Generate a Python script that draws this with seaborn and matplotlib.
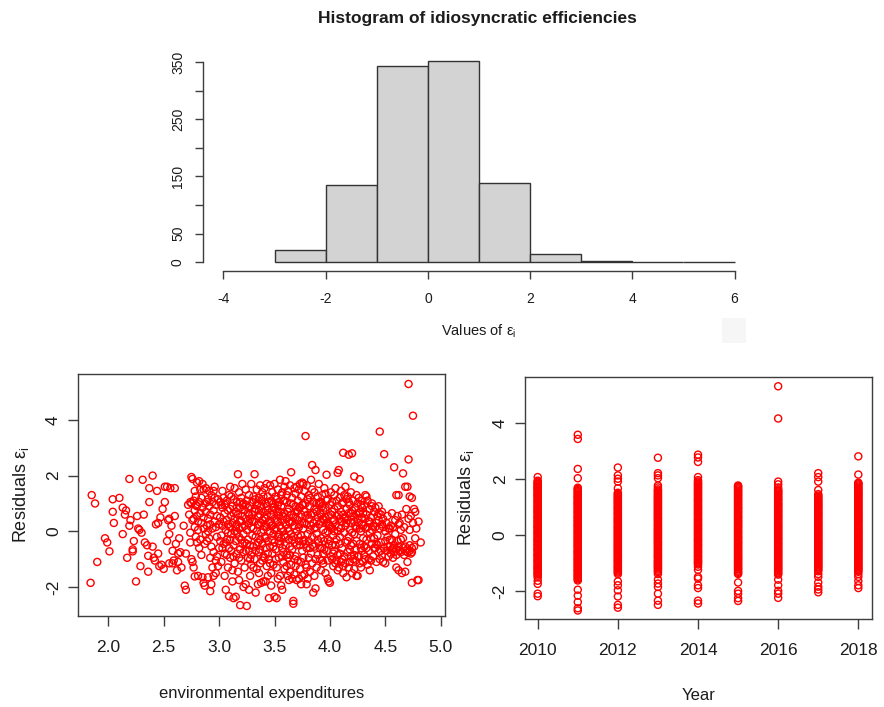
import matplotlib
matplotlib.use("Agg")
import matplotlib.pyplot as plt
from matplotlib.patches import Rectangle
import numpy as np
import pandas as pd
import seaborn as sns
from matplotlib import font_manager

# ---------------- data ----------------
# histogram of idiosyncratic efficiencies (bin edges and counts)
bin_edges = [-3, -2, -1, 0, 1, 2, 3, 4, 5, 6]
bin_counts = [22, 135, 343, 351, 138, 15, 3, 1, 1]
hist_xticks = [-4, -2, 0, 2, 4, 6]
hist_yticks = [0, 50, 100, 150, 200, 250, 300, 350]
hist_yticklabels = ["0", "50", "", "150", "", "250", "", "350"]

# residuals against environmental expenditures, (expenditure, residual)
exp_band_a = [
    (1.84, -1.85), (1.85, 1.3), (1.88, 1.0), (1.90, -1.1), (1.97, -0.25), (1.99, -0.4),
    (2.01, -0.72), (2.04, 1.15), (2.04, 0.7), (2.05, 0.3), (2.10, 1.2), (2.13, 0.85),
    (2.13, -0.1), (2.15, 0.6), (2.16, 0.75), (2.17, -0.95), (2.19, 1.88), (2.19, 0.2),
    (2.20, 0.4), (2.22, -0.72), (2.22, -0.65), (2.23, -0.35), (2.25, -1.8), (2.26, 0.55),
    (2.28, 0.05), (2.29, -1.25), (2.30, -0.05), (2.31, 1.85), (2.32, 0.6), (2.35, -0.5),
    (2.36, -1.45), (2.36, -0.88), (2.37, 1.05), (2.37, 1.55), (2.40, 2.0), (2.40, -0.55),
    (2.41, -0.95), (2.42, -1.05), (2.43, 0.25), (2.44, 1.45), (2.45, -0.8), (2.46, -1.25),
    (2.47, 0.5), (2.49, 0.8), (2.50, -1.35), (2.51, 1.05), (2.51, 1.6), (2.53, 1.6),
    (2.54, 0.4), (2.55, -0.1), (2.55, -1.15), (2.56, 1.55), (2.57, 0.2), (2.55, 0.45),
    (2.58, -0.7), (2.59, -1.05), (2.60, 0.55), (2.61, -0.45), (2.62, -1.4), (2.63, -0.8),
    (2.64, -0.25), (2.65, -0.75), (2.66, -1.3), (2.68, 0.2), (2.69, -1.95), (2.70, -2.1),
    (2.70, -0.8), (2.53, -0.35), (2.45, 0.3), (2.33, -0.4), (2.27, 0.1), (2.63, -1.1),
    (2.58, -1.15), (2.48, -1.2), (2.60, 1.55),
]
exp_band_b = [
    (2.72, 0.95), (2.73, 0.6), (2.74, -0.05), (2.74, -0.4), (2.75, 1.95), (2.75, 1.0),
    (2.75, -1.0), (2.76, 1.88), (2.76, 0.4), (2.76, -1.1), (2.77, 1.1), (2.77, -1.3),
    (2.78, 0.75), (2.78, 0.15), (2.78, -1.62), (2.79, 1.25), (2.79, -0.2), (2.80, 1.75),
    (2.80, 0.9), (2.80, 0.55), (2.81, -1.6), (2.81, 0.05), (2.82, 1.8), (2.82, 1.05),
    (2.83, 0.65), (2.83, -0.3), (2.84, 1.2), (2.84, 0.3), (2.85, 1.7), (2.85, -1.65),
    (2.85, 0.85), (2.86, -1.85), (2.86, 0.5), (2.87, 1.0), (2.87, -1.95), (2.87, -0.45),
    (2.88, 1.55), (2.88, 0.7), (2.89, 0.2), (2.89, -0.35), (2.90, -1.65), (2.90, 1.15),
    (2.90, 0.45), (2.91, -0.25), (2.91, 0.9), (2.92, -2.15), (2.92, 0.6), (2.92, -0.95),
    (2.93, -1.9), (2.93, 1.3), (2.93, -0.55), (2.94, 0.1), (2.94, 1.05), (2.95, -1.6),
    (2.95, 0.75), (2.95, -0.75), (2.96, 1.2), (2.96, 0.35), (2.97, -1.5), (2.97, -1.05),
    (2.97, 0.95), (2.98, -0.2), (2.98, 0.55), (2.99, 1.15), (2.99, -1.25), (3.00, 0.25),
    (3.00, -0.6), (2.96, 1.6), (2.94, -1.3), (2.91, 1.45), (2.86, 1.5), (2.79, 0.95),
    (2.77, 0.45), (2.82, -0.6), (2.88, -0.1), (2.84, -0.85), (2.80, -0.4), (2.98, -0.9),
    (2.90, 0.0), (2.74, 1.05),
]
exp_band_c = [
    (3.01, 1.05), (3.01, 0.5), (3.02, -0.15), (3.02, -1.1), (3.03, 0.85), (3.03, 0.2),
    (3.04, 1.2), (3.04, -0.45), (3.05, -1.6), (3.05, 0.65), (3.05, -0.8), (3.06, -2.1),
    (3.06, 0.05), (3.06, 1.0), (3.07, 0.4), (3.07, -0.3), (3.08, -1.3), (3.08, 0.75),
    (3.09, -2.33), (3.09, 1.3), (3.09, -0.6), (3.10, 1.6), (3.10, 0.15), (3.10, -0.95),
    (3.11, 0.55), (3.11, -0.1), (3.12, -1.8), (3.12, 0.9), (3.12, 0.3), (3.13, -2.4),
    (3.13, -0.5), (3.13, 1.15), (3.14, 0.45), (3.14, -1.15), (3.14, 0.0), (3.15, -2.35),
    (3.15, 0.7), (3.15, -0.35), (3.16, 1.05), (3.16, 0.25), (3.16, -0.8), (3.17, 2.05),
    (3.17, -1.45), (3.17, 0.6), (3.18, -0.2), (3.18, 1.4), (3.18, 0.1), (3.19, -2.65),
    (3.19, 0.85), (3.19, -0.65), (3.20, 0.35), (3.20, -1.05), (3.20, 1.2), (3.21, -0.45),
    (3.21, 0.55), (3.22, -2.0), (3.22, 1.0), (3.22, -0.1), (3.23, 0.75), (3.23, -1.3),
    (3.23, 0.2), (3.24, 1.5), (3.24, -0.7), (3.24, 0.45), (3.25, -2.68), (3.25, 0.05),
    (3.25, 1.1), (3.26, -0.95), (3.26, 0.65), (3.26, -0.3), (3.27, -2.1), (3.27, 1.3),
    (3.27, 0.3), (3.28, -1.6), (3.28, 0.9), (3.28, -0.5), (3.29, 0.15), (3.29, 1.7),
    (3.29, -1.2), (3.30, 0.6), (3.30, -0.15), (3.30, 1.05), (3.02, 0.95), (3.04, 0.35),
    (3.07, 1.1), (3.08, -0.05), (3.11, -0.7), (3.13, 0.65), (3.16, -0.05), (3.19, 0.4),
    (3.21, 0.95), (3.23, -0.4), (3.26, 0.85), (3.28, 0.45), (3.29, -0.85), (3.12, -1.4),
    (3.18, -1.75), (3.24, -1.9), (3.06, -0.4), (3.14, 1.55), (3.21, 1.7), (3.10, 0.8),
    (3.27, -0.7), (3.03, -0.6), (3.20, -0.3),
]
exp_band_d = [
    (3.31, 1.25), (3.31, -0.55), (3.32, 2.05), (3.32, 0.35), (3.32, -1.0), (3.33, -2.2),
    (3.33, 0.8), (3.33, -0.2), (3.34, 1.5), (3.34, 0.0), (3.34, -1.35), (3.35, -1.9),
    (3.35, 0.55), (3.35, 1.0), (3.31, 0.1), (3.33, -0.7), (3.34, 0.95), (3.35, -0.4),
    (3.36, 1.2), (3.36, -0.75), (3.36, 0.25), (3.37, 1.65), (3.37, -1.15), (3.37, 0.6),
    (3.38, -1.85), (3.38, -0.05), (3.38, 0.9), (3.39, 1.4), (3.39, -0.45), (3.39, 0.4),
    (3.40, -1.8), (3.40, 0.7), (3.40, -0.9), (3.36, -1.5), (3.38, 1.1), (3.40, 0.05),
    (3.37, -0.3), (3.41, 1.55), (3.41, -0.2), (3.41, 0.5), (3.42, -1.8), (3.42, 1.0),
    (3.42, -0.6), (3.43, 1.7), (3.43, 0.15), (3.43, -1.25), (3.44, 0.75), (3.44, -0.35),
    (3.44, 1.25), (3.45, -2.4), (3.45, -1.0), (3.45, 0.3), (3.42, 0.45), (3.44, -1.6),
    (3.41, -0.95), (3.43, 0.9), (3.46, 1.65), (3.46, 0.0), (3.46, -0.55), (3.47, 1.1),
    (3.47, -1.5), (3.47, 0.6), (3.48, -0.8), (3.48, 0.2), (3.48, 1.4), (3.49, -1.2),
    (3.49, 0.85), (3.49, -0.1), (3.50, -2.35), (3.50, 1.7), (3.50, 0.45), (3.50, -0.4),
    (3.47, -1.95), (3.49, 1.0), (3.46, 0.35), (3.48, -0.3), (3.51, 1.25), (3.51, -0.65),
    (3.51, 0.1), (3.52, -2.4), (3.52, 0.7), (3.52, -1.3), (3.53, 1.5), (3.53, -0.2),
    (3.53, 0.35), (3.54, -0.95), (3.54, 1.05), (3.54, 0.55), (3.55, 1.85), (3.55, -1.6),
    (3.55, -0.45), (3.55, 0.2), (3.52, 1.15), (3.53, -1.7), (3.54, -0.1), (3.51, 0.8),
    (3.56, -1.95), (3.56, 0.9), (3.56, -0.25), (3.57, -2.1), (3.57, 1.4), (3.57, 0.4),
    (3.58, -0.75), (3.58, 1.1), (3.58, 0.0), (3.59, -1.35), (3.59, 0.65), (3.59, 1.6),
    (3.60, 1.8), (3.60, -0.5), (3.60, 0.25), (3.56, 1.3), (3.58, -1.1), (3.59, -0.15),
    (3.57, -0.6), (3.61, 1.05), (3.61, -0.85), (3.61, 0.45), (3.62, -1.6), (3.62, 1.45),
    (3.62, 0.1), (3.63, -0.3), (3.63, 0.8), (3.63, -1.75), (3.64, 1.65), (3.64, -0.55),
    (3.64, 0.3), (3.65, 2.12), (3.65, -1.2), (3.65, 0.6), (3.62, -0.95), (3.64, -1.45),
    (3.61, 1.3), (3.63, 0.0), (3.65, -0.1), (3.66, 1.2), (3.66, -0.65), (3.66, -1.7),
    (3.67, -2.5), (3.67, -2.6), (3.67, 0.5), (3.67, -0.2), (3.68, 1.55), (3.68, -1.55),
    (3.68, 0.2), (3.69, -0.9), (3.69, 0.9), (3.69, 1.35), (3.70, -1.75), (3.70, 0.0),
    (3.70, 0.7), (3.66, 0.35), (3.68, -0.4), (3.69, -1.25), (3.70, 1.6), (3.71, -1.05),
    (3.71, 1.1), (3.71, 0.4), (3.72, -1.7), (3.72, 0.15), (3.72, 1.5), (3.73, -0.5),
    (3.73, 0.85), (3.73, -1.35), (3.74, 1.25), (3.74, -0.15), (3.74, 0.6), (3.75, 1.75),
    (3.75, -1.6), (3.75, -0.7), (3.75, 0.3), (3.72, -0.35), (3.74, -1.9), (3.71, 0.75),
    (3.73, 1.7), (3.76, -0.95), (3.76, 0.95), (3.76, 0.1), (3.77, -1.55), (3.77, 1.45),
    (3.77, -0.3), (3.78, 3.42), (3.78, 0.55), (3.78, -1.2), (3.79, 1.65), (3.79, -0.6),
    (3.79, 0.25), (3.80, -1.7), (3.80, 1.15), (3.80, -0.1), (3.77, 0.7), (3.79, -1.9),
    (3.76, 1.7), (3.78, -0.45),
]
exp_band_e = [
    (3.81, 1.3), (3.81, -0.35), (3.81, 0.45), (3.82, -1.45), (3.82, 0.9), (3.82, 0.05),
    (3.83, 1.85), (3.83, -0.8), (3.83, 0.6), (3.84, 2.38), (3.84, -0.2), (3.84, -1.15),
    (3.85, -2.2), (3.85, 1.05), (3.85, 0.3), (3.82, -0.6), (3.84, 1.5), (3.86, -0.55),
    (3.86, 0.8), (3.86, 1.4), (3.87, 2.2), (3.87, -2.05), (3.87, 0.15), (3.88, -1.3),
    (3.88, 1.0), (3.88, -0.1), (3.89, 0.5), (3.89, -0.85), (3.89, 1.25), (3.90, 1.7),
    (3.90, -0.4), (3.90, 0.25), (3.86, -1.6), (3.88, 0.7), (3.91, -1.0), (3.91, 0.65),
    (3.91, 1.05), (3.92, -0.25), (3.92, 0.35), (3.92, -1.4), (3.93, 0.9), (3.93, -0.6),
    (3.93, 1.3), (3.94, 0.05), (3.94, -1.15), (3.94, 0.75), (3.95, 1.55), (3.95, -0.35),
    (3.95, 0.4), (3.92, 1.0), (3.94, -0.8), (3.96, -0.05), (3.96, 0.85), (3.96, -1.5),
    (3.97, 2.03), (3.97, 0.3), (3.97, -0.7), (3.98, -1.7), (3.98, 1.15), (3.98, 0.0),
    (3.99, -1.8), (3.99, 0.55), (3.99, -0.45), (4.00, -1.85), (4.00, 0.95), (4.00, 0.2),
    (3.96, 1.35), (3.98, -0.3), (4.01, -0.9), (4.01, 0.6), (4.01, 1.4), (4.02, 0.1),
    (4.02, -0.5), (4.02, 1.05), (4.03, -1.25), (4.03, 0.4), (4.03, -0.15), (4.04, 1.3),
    (4.04, -0.7), (4.04, 0.8), (4.05, -1.15), (4.05, 0.25), (4.05, 1.55), (4.02, -1.0),
    (4.04, 0.0), (4.06, -1.05), (4.06, 0.55), (4.06, -0.3), (4.07, 2.1), (4.07, 0.9),
    (4.07, -0.85), (4.08, 2.2), (4.08, 0.15), (4.08, -1.3), (4.09, 1.2), (4.09, -0.45),
    (4.09, 0.45), (4.10, -1.1), (4.10, 0.7), (4.10, 1.45), (4.07, 0.0), (4.09, -0.2),
    (4.11, -0.6), (4.11, 0.35), (4.11, 1.0), (4.12, 2.82), (4.12, -1.25), (4.12, 0.6),
    (4.13, -0.05), (4.13, 1.3), (4.13, -0.9), (4.14, 1.6), (4.14, 0.2), (4.14, -0.4),
    (4.15, -1.65), (4.15, 0.8), (4.15, 1.15), (4.12, -1.5), (4.14, 0.5), (4.16, -0.75),
    (4.16, 0.4), (4.16, 1.25), (4.17, 2.75), (4.17, -0.2), (4.17, 0.65), (4.18, -1.1),
    (4.18, 0.05), (4.18, 0.95), (4.19, -0.5), (4.19, 1.4), (4.19, 0.3), (4.20, 2.8),
    (4.20, -1.5), (4.20, 0.75), (4.17, -1.3), (4.19, -0.9), (4.21, -1.0), (4.21, 0.55),
    (4.21, 1.1), (4.22, 1.97), (4.22, -1.35), (4.22, -0.1), (4.23, 0.85), (4.23, -0.65),
    (4.23, 0.2), (4.24, 1.3), (4.24, -1.6), (4.24, -0.35), (4.25, -1.6), (4.25, 0.45),
    (4.25, 1.0), (4.22, -0.85), (4.24, 0.6), (4.26, -0.9), (4.26, 0.3), (4.26, 1.2),
    (4.27, 1.87), (4.27, -0.45), (4.27, 0.7), (4.28, -1.3), (4.28, 0.0), (4.28, 0.95),
    (4.29, -0.7), (4.29, 0.5), (4.29, 1.1), (4.30, -1.1), (4.30, 0.2), (4.30, -0.25),
    (4.27, -1.15), (4.29, 0.85),
]
exp_band_f = [
    (4.31, 0.95), (4.31, -0.55), (4.32, 1.3), (4.32, 0.1), (4.32, -1.0), (4.33, 0.6),
    (4.33, -0.3), (4.34, 1.1), (4.34, -1.2), (4.35, 0.35), (4.35, -0.7), (4.36, 0.8),
    (4.36, -0.05), (4.37, -1.05), (4.37, 0.5), (4.38, 1.0), (4.38, -0.45), (4.39, 0.2),
    (4.39, -0.9), (4.40, 0.7), (4.40, -0.25), (4.36, -1.4), (4.33, 1.25), (4.38, 0.9),
    (4.41, 0.85), (4.41, -0.6), (4.42, 0.3), (4.42, -1.1), (4.43, 0.55), (4.43, -0.15),
    (4.44, 0.9), (4.44, -0.75), (4.45, 3.58), (4.45, 0.1), (4.45, -1.0), (4.46, 0.6),
    (4.46, -0.4), (4.47, 0.25), (4.47, -0.85), (4.48, -1.1), (4.48, 0.45), (4.49, 2.77),
    (4.49, -0.6), (4.50, 0.0), (4.50, -1.15), (4.44, 0.4), (4.47, 0.7), (4.42, -0.45),
    (4.51, 0.3), (4.51, -0.7), (4.52, -0.2), (4.52, 0.55), (4.53, -0.9), (4.53, 0.1),
    (4.54, -0.55), (4.55, -0.8), (4.55, 0.2), (4.56, -0.3), (4.56, 0.65), (4.57, -0.6),
    (4.57, 0.15), (4.58, 2.3), (4.58, -0.75), (4.59, 0.4), (4.59, -0.1), (4.60, 1.3),
    (4.60, -1.3), (4.60, -0.65), (4.54, 0.1), (4.57, -0.95), (4.61, 0.55), (4.61, -0.35),
    (4.62, 1.3), (4.62, -1.4), (4.62, 0.25), (4.63, -0.7), (4.63, 0.3), (4.64, -0.3),
    (4.65, -1.5), (4.65, 0.6), (4.66, 2.08), (4.66, -0.6), (4.67, 0.15), (4.68, 1.6),
    (4.68, -1.45), (4.68, -0.7), (4.69, 0.8), (4.70, 1.6), (4.70, -0.75), (4.70, -1.1),
    (4.64, 0.05), (4.67, -0.85), (4.71, 5.29), (4.71, 2.58), (4.71, 0.45), (4.72, 1.25),
    (4.72, -0.7), (4.72, 0.05), (4.73, -0.8), (4.74, 1.2), (4.74, -1.85), (4.74, -0.75),
    (4.75, 4.15), (4.75, 0.3), (4.76, 0.8), (4.76, -0.55), (4.77, 0.7), (4.78, 0.1),
    (4.79, -1.75), (4.80, -1.75), (4.80, 0.35), (4.82, -0.4), (4.73, 0.55), (4.77, -0.25),
]
exp_band_core = [
    (2.78, 1.45), (2.81, 0.35), (2.83, 1.5), (2.86, 0.1), (2.89, 1.05), (2.92, 0.25),
    (2.95, 1.45), (2.97, 0.15), (3.01, -0.35), (3.03, 1.45), (3.05, 0.95), (3.07, -0.85),
    (3.08, 0.25), (3.10, -0.3), (3.11, 1.25), (3.13, -0.9), (3.15, 0.15), (3.16, 0.85),
    (3.18, -0.95), (3.19, 1.05), (3.21, 0.15), (3.22, -0.75), (3.24, 0.95), (3.25, -0.45),
    (3.27, 0.6), (3.28, -1.0), (3.30, 0.35), (3.31, -1.3), (3.32, 0.7), (3.33, 1.15),
    (3.34, -0.5), (3.35, 0.25), (3.36, 0.75), (3.37, -0.65), (3.38, 0.3), (3.39, -1.05),
    (3.40, 1.25), (3.41, 0.2), (3.42, -0.25), (3.43, 0.6), (3.44, -0.8), (3.45, 1.05),
    (3.46, -1.15), (3.47, 0.2), (3.48, 0.75), (3.49, -0.55), (3.50, 0.05), (3.51, -1.0),
    (3.52, 0.4), (3.53, 0.95), (3.54, -0.35), (3.55, 0.7), (3.56, 0.1), (3.57, -0.9),
    (3.58, 0.55), (3.59, 1.1), (3.60, -0.2), (3.61, -1.25), (3.62, 0.7), (3.63, 0.35),
    (3.64, -0.85), (3.65, 1.0), (3.66, -0.3), (3.67, 0.95), (3.68, -1.0), (3.69, 0.5),
    (3.70, -0.5), (3.71, -0.15), (3.72, 0.85), (3.73, 0.25), (3.74, -1.1), (3.75, 0.95),
    (3.76, -0.35), (3.77, 0.3), (3.78, 1.0), (3.79, -1.3), (3.80, 0.6), (3.81, -0.95),
    (3.82, 1.2), (3.83, 0.2), (3.84, -0.5), (3.85, 0.65), (3.86, 0.1), (3.87, -1.0),
    (3.88, 0.35), (3.89, -0.3), (3.90, 1.0), (3.91, -0.6), (3.92, 0.6), (3.93, -1.05),
    (3.94, 0.45), (3.95, -0.65), (3.96, 0.5), (3.97, 1.1), (3.98, -1.05), (3.99, 0.25),
    (4.00, -0.35), (4.01, 0.15), (4.02, 0.7), (4.03, -0.8), (4.04, 0.4), (4.05, -0.5),
    (4.06, 1.1), (4.07, -1.4), (4.08, 0.6), (4.09, -0.8), (4.10, 0.1), (4.11, -1.0),
    (4.12, 1.05), (4.13, 0.45), (4.14, -1.15), (4.15, 0.3), (4.16, -0.35), (4.17, 1.05),
    (4.18, -0.65), (4.19, 0.65), (4.20, -0.05), (4.21, -0.45), (4.22, 0.35), (4.23, -1.05),
    (4.24, 0.1), (4.25, -0.9), (4.26, 0.65), (4.27, 0.1), (4.28, -0.6), (4.29, 0.25),
    (4.30, 0.65), (4.31, -0.85), (4.32, 0.45), (4.33, -0.6), (4.34, 0.15), (4.35, -1.0),
    (4.36, 0.35), (4.37, -0.25), (4.38, 0.05), (4.40, -0.6), (4.41, 0.15), (4.43, -0.5),
    (4.44, 0.65), (4.46, -0.7), (4.48, 0.15), (4.50, -0.35), (4.52, -0.55), (4.54, -0.3),
    (4.56, -0.65), (4.58, -0.5), (4.60, -0.85), (4.62, -0.55), (4.64, -0.75), (4.66, -0.25),
    (4.68, -0.55), (4.70, -0.65), (4.72, -0.5), (4.74, -0.6),
]
exp_points = (exp_band_a + exp_band_b + exp_band_c + exp_band_d + exp_band_e
              + exp_band_f + exp_band_core)
expenditure = [p[0] for p in exp_points]
resid_exp = [p[1] for p in exp_points]

# residuals by year
resid_2010 = [2.06, 1.93, 1.86, 1.79, 1.71, 1.66, 1.58, 1.5, 1.43, 1.37, 1.29, 1.2, 1.14,
              1.05, 0.98, 0.9, 0.83, 0.77, 0.68, 0.61, 0.52, 0.46, 0.37, 0.3, 0.24, 0.15,
              0.07, 0.01, -0.08, -0.16, -0.22, -0.31, -0.38, -0.47, -0.53, -0.61, -0.7,
              -0.76, -0.85, -0.93, -1.0, -1.09, -1.17, -1.24, -1.33, -1.41, -1.52, -1.64,
              -1.75, -2.1, -2.19,
              1.89, 1.82, 1.75, 1.68, 1.62, 1.54, 1.46, 1.4, 1.33, 1.25, 1.17, 1.09, 1.01,
              0.94, 0.86, 0.8, 0.72, 0.64, 0.57, 0.49, 0.41, 0.33, 0.27, 0.19, 0.11, 0.04,
              -0.04, -0.12, -0.19, -0.27, -0.35, -0.42, -0.5, -0.57, -0.66, -0.73, -0.8,
              -0.89, -0.96, -1.04, -1.13, -1.2, -1.28, -1.37, -1.46]
resid_2011 = [3.57, 3.42, 2.35, 2.02, 1.68, 1.6, 1.52, 1.44, 1.36, 1.3, 1.21, 1.13, 1.07,
              0.98, 0.9, 0.82, 0.75, 0.66, 0.6, 0.51, 0.43, 0.35, 0.29, 0.2, 0.11, 0.04,
              -0.05, -0.12, -0.2, -0.29, -0.36, -0.43, -0.52, -0.6, -0.67, -0.75, -0.84,
              -0.91, -0.99, -1.07, -1.15, -1.24, -1.3, -1.39, -1.47, -1.55, -1.63, -1.96,
              -2.17, -2.4, -2.62, -2.7,
              1.64, 1.56, 1.48, 1.4, 1.33, 1.25, 1.17, 1.1, 1.02, 0.94, 0.86, 0.79, 0.71,
              0.63, 0.55, 0.47, 0.39, 0.32, 0.24, 0.16, 0.08, 0.0, -0.08, -0.16, -0.24,
              -0.32, -0.4, -0.47, -0.56, -0.63, -0.71, -0.79, -0.87, -0.95, -1.03, -1.11,
              -1.19, -1.27, -1.35, -1.43, -1.51, -1.59]
resid_2012 = [2.4, 2.12, 2.0, 1.9, 1.66, 1.5, 1.42, 1.35, 1.27, 1.19, 1.12, 1.03, 0.96,
              0.88, 0.8, 0.73, 0.64, 0.57, 0.49, 0.42, 0.33, 0.26, 0.18, 0.1, 0.02, -0.06,
              -0.14, -0.21, -0.3, -0.37, -0.45, -0.53, -0.6, -0.69, -0.76, -0.84, -0.92,
              -0.99, -1.08, -1.15, -1.23, -1.31, -1.4, -1.66, -1.8, -1.98, -2.2, -2.5, -2.6,
              1.46, 1.38, 1.31, 1.23, 1.15, 1.07, 0.99, 0.92, 0.84, 0.76, 0.68, 0.6, 0.53,
              0.45, 0.37, 0.29, 0.22, 0.14, 0.06, -0.02, -0.1, -0.18, -0.25, -0.33, -0.41,
              -0.49, -0.56, -0.64, -0.72, -0.8, -0.88, -0.95, -1.03, -1.11, -1.19, -1.27,
              -1.35]
resid_2013 = [2.75, 2.2, 2.12, 2.02, 1.76, 1.62, 1.55, 1.46, 1.38, 1.31, 1.23, 1.15, 1.08,
              0.99, 0.92, 0.84, 0.76, 0.69, 0.6, 0.53, 0.45, 0.37, 0.3, 0.21, 0.14, 0.06,
              -0.02, -0.1, -0.17, -0.26, -0.33, -0.41, -0.5, -0.57, -0.65, -0.73, -0.8,
              -0.89, -0.97, -1.04, -1.12, -1.2, -1.29, -1.4, -1.6, -1.74, -1.86, -2.1,
              -2.35, -2.5,
              1.69, 1.58, 1.5, 1.42, 1.34, 1.27, 1.19, 1.11, 1.03, 0.95, 0.88, 0.8, 0.72,
              0.64, 0.57, 0.49, 0.41, 0.33, 0.25, 0.17, 0.1, 0.02, -0.06, -0.14, -0.22,
              -0.29, -0.37, -0.45, -0.53, -0.61, -0.69, -0.77, -0.84, -0.93, -1.0, -1.08,
              -1.16, -1.24, -1.33]
resid_2014 = [2.86, 2.76, 2.6, 2.06, 1.95, 1.86, 1.79, 1.71, 1.63, 1.55, 1.47, 1.4, 1.31,
              1.24, 1.16, 1.08, 1.0, 0.93, 0.85, 0.77, 0.7, 0.61, 0.54, 0.46, 0.38, 0.31,
              0.22, 0.15, 0.07, -0.01, -0.09, -0.17, -0.24, -0.33, -0.4, -0.48, -0.56,
              -0.63, -0.72, -0.79, -0.87, -0.95, -1.02, -1.25, -1.5, -1.56, -1.8, -1.9,
              -2.35, -2.45,
              1.9, 1.82, 1.75, 1.67, 1.59, 1.51, 1.43, 1.35, 1.27, 1.2, 1.12, 1.04, 0.96,
              0.89, 0.81, 0.73, 0.65, 0.57, 0.5, 0.42, 0.34, 0.26, 0.19, 0.11, 0.03, -0.05,
              -0.13, -0.2, -0.28, -0.36, -0.44, -0.52, -0.6, -0.67, -0.75, -0.83, -0.91,
              -0.98, -1.06, -1.14]
resid_2015 = [1.76, 1.7, 1.62, 1.55, 1.47, 1.4, 1.32, 1.25, 1.17, 1.09, 1.01, 0.94, 0.86,
              0.79, 0.7, 0.63, 0.55, 0.48, 0.4, 0.32, 0.25, 0.16, 0.09, 0.01, -0.07, -0.14,
              -0.23, -0.3, -0.38, -0.46, -0.53, -0.61, -0.69, -0.77, -0.84, -0.92, -1.0,
              -1.08, -1.16, -1.23, -1.32, -1.4, -1.7, -2.0, -2.1, -2.26, -2.36,
              1.73, 1.66, 1.58, 1.51, 1.43, 1.36, 1.28, 1.21, 1.13, 1.05, 0.97, 0.9, 0.82,
              0.74, 0.66, 0.59, 0.51, 0.44, 0.36, 0.28, 0.2, 0.12, 0.05, -0.03, -0.11,
              -0.19, -0.27, -0.34, -0.42, -0.5, -0.57, -0.65, -0.73, -0.81, -0.88, -0.96,
              -1.04, -1.12, -1.2, -1.28, -1.36]
resid_2016 = [5.3, 4.15, 1.9, 1.8, 1.62, 1.55, 1.47, 1.39, 1.31, 1.24, 1.15, 1.08, 1.0,
              0.92, 0.85, 0.77, 0.69, 0.62, 0.54, 0.46, 0.38, 0.3, 0.23, 0.15, 0.07, -0.01,
              -0.09, -0.16, -0.25, -0.32, -0.4, -0.48, -0.56, -0.63, -0.71, -0.79, -0.87,
              -0.95, -1.03, -1.1, -1.18, -1.26, -1.35, -1.42, -1.6, -1.8, -2.0, -2.1, -2.25,
              1.69, 1.58, 1.51, 1.43, 1.35, 1.27, 1.2, 1.11, 1.04, 0.96, 0.88, 0.81, 0.73,
              0.65, 0.58, 0.5, 0.42, 0.34, 0.27, 0.19, 0.11, 0.03, -0.05, -0.13, -0.2,
              -0.28, -0.36, -0.44, -0.52, -0.6, -0.67, -0.75, -0.83, -0.91, -0.99, -1.07,
              -1.14, -1.22, -1.3, -1.38]
resid_2017 = [2.2, 2.06, 1.9, 1.6, 1.45, 1.36, 1.28, 1.2, 1.12, 1.05, 0.97, 0.89, 0.81,
              0.74, 0.66, 0.58, 0.5, 0.42, 0.35, 0.27, 0.19, 0.11, 0.04, -0.04, -0.12,
              -0.2, -0.28, -0.35, -0.43, -0.51, -0.59, -0.66, -0.74, -0.82, -0.9, -0.98,
              -1.05, -1.13, -1.21, -1.3, -1.5, -1.7, -1.85, -1.95, -2.05,
              1.4, 1.32, 1.24, 1.16, 1.08, 1.01, 0.93, 0.85, 0.77, 0.7, 0.62, 0.54, 0.46,
              0.38, 0.31, 0.23, 0.15, 0.07, 0.0, -0.08, -0.16, -0.24, -0.31, -0.39, -0.47,
              -0.55, -0.62, -0.7, -0.78, -0.86, -0.94, -1.01, -1.09, -1.17, -1.25, -1.4]
resid_2018 = [2.8, 2.15, 1.86, 1.8, 1.72, 1.64, 1.56, 1.48, 1.41, 1.33, 1.25, 1.17, 1.1,
              1.02, 0.94, 0.86, 0.79, 0.71, 0.63, 0.55, 0.48, 0.4, 0.32, 0.24, 0.16, 0.09,
              0.01, -0.07, -0.15, -0.22, -0.3, -0.38, -0.46, -0.53, -0.61, -0.69, -0.77,
              -0.85, -0.92, -1.0, -1.08, -1.16, -1.24, -1.32, -1.5, -1.65, -1.8, -1.9,
              1.83, 1.76, 1.68, 1.6, 1.52, 1.44, 1.37, 1.29, 1.21, 1.13, 1.06, 0.98, 0.9,
              0.82, 0.75, 0.67, 0.59, 0.51, 0.44, 0.36, 0.28, 0.2, 0.12, 0.05, -0.03,
              -0.11, -0.19, -0.26, -0.34, -0.42, -0.5, -0.57, -0.65, -0.73, -0.81, -0.89,
              -0.96, -1.04, -1.12, -1.2, -1.28, -1.4]
years = [2010, 2011, 2012, 2013, 2014, 2015, 2016, 2017, 2018]
year_ticks = [2010, 2012, 2014, 2016, 2018]
exp_ticks = [2.0, 2.5, 3.0, 3.5, 4.0, 4.5, 5.0]
resid_ticks = [-2, 0, 2, 4]

# ---------------- style ----------------
sns.set_theme(style="ticks")
installed = {f.name for f in font_manager.fontManager.ttflist}
REG = "Liberation Sans" if "Liberation Sans" in installed else "DejaVu Sans"
plt.rcParams["font.family"] = [REG, "DejaVu Sans"]
plt.rcParams["mathtext.fontset"] = "custom"
plt.rcParams["mathtext.rm"] = REG

INK = "#1c1c1c"
AXC = "#3d3d3d"
RES_LABEL = "Residuals ε$_\\mathregular{i}$"

fig = plt.figure(figsize=(8.84, 7.07), dpi=100)
W, H = 884, 707


def box(x0, y0, x1, y1):
    """pixel box (top-left origin) -> figure fraction rect"""
    return [x0 / W, 1 - y1 / H, (x1 - x0) / W, (y1 - y0) / H]


# ---------------- histogram ----------------
ax_h = fig.add_axes(box(203, 52.8, 755, 271))
centers = [(a + b) / 2 for a, b in zip(bin_edges[:-1], bin_edges[1:])]
hist_df = pd.DataFrame({"value": centers, "count": bin_counts})
sns.histplot(data=hist_df, x="value", weights="count", bins=bin_edges, ax=ax_h,
             color="#D3D3D3", edgecolor="#333333", linewidth=1.0, alpha=1.0)
ax_h.set_xlim(-4.4, 6.4)
ax_h.set_ylim(-15.2, 366.1)
for s in ["top", "right"]:
    ax_h.spines[s].set_visible(False)
for s in ["left", "bottom"]:
    ax_h.spines[s].set_color(AXC)
    ax_h.spines[s].set_linewidth(1.0)
ax_h.spines["bottom"].set_bounds(-4, 6)
ax_h.spines["left"].set_bounds(0, 350)
ax_h.set_xticks(hist_xticks)
ax_h.set_xticklabels([str(t) for t in hist_xticks])
ax_h.set_yticks(hist_yticks)
ax_h.set_yticklabels(hist_yticklabels, rotation=90, va="center")
ax_h.tick_params(axis="both", direction="out", length=6, width=1.0, color=AXC,
                 labelcolor=INK, labelsize=10, bottom=True, left=True)
ax_h.tick_params(axis="x", pad=9)
ax_h.tick_params(axis="y", pad=7)
ax_h.set_xlabel("Values of ε$_\\mathregular{i}$", fontsize=10.5, color=INK, labelpad=12)
ax_h.set_ylabel("")
fig.text(477 / W, 1 - 19 / H, "Histogram of idiosyncratic efficiencies",
         ha="center", va="center", fontsize=12.5, fontweight="bold", color=INK)

# faint square under the histogram's right end
fig.patches.append(Rectangle((722 / W, 1 - 343 / H), 24 / W, 25 / H,
                             transform=fig.transFigure, facecolor="#f6f6f6",
                             edgecolor="none", zorder=0))


def style_box(ax):
    for s in ax.spines.values():
        s.set_visible(True)
        s.set_color(AXC)
        s.set_linewidth(1.0)
    ax.tick_params(axis="both", direction="out", length=7.5, width=1.0, color=AXC,
                   labelcolor=INK, bottom=True, left=True, top=False, right=False)
    for lab in ax.get_xticklabels():
        lab.set_fontsize(12.5)
    for lab in ax.get_yticklabels():
        lab.set_rotation(90)
        lab.set_va("center")
        lab.set_fontsize(12.5)


def hollow(ax):
    coll = ax.collections[-1]
    coll.set_facecolor("none")
    coll.set_edgecolor("red")
    coll.set_linewidth(1.0)


# ---------------- residuals vs expenditures ----------------
ax_l = fig.add_axes(box(78.3, 374, 445, 615.7))
exp_df = pd.DataFrame({"expenditure": expenditure, "resid": resid_exp})
sns.scatterplot(data=exp_df, x="expenditure", y="resid", ax=ax_l, marker="o", s=26,
                facecolor="none", edgecolor="red", linewidth=1.0)
hollow(ax_l)
ax_l.set_xlim(1.729, 5.039)
ax_l.set_ylim(-3.03, 5.648)
ax_l.set_xticks(exp_ticks)
ax_l.set_xticklabels([f"{t:.1f}" for t in exp_ticks])
ax_l.set_yticks(resid_ticks)
ax_l.set_yticklabels([str(t) for t in resid_ticks])
style_box(ax_l)
ax_l.tick_params(axis="x", pad=10)
ax_l.tick_params(axis="y", pad=5)
ax_l.set_xlabel("environmental expenditures", fontsize=12, color=INK, labelpad=22)
ax_l.set_ylabel(RES_LABEL, fontsize=13, color=INK, labelpad=11)

# ---------------- residuals vs year ----------------
ax_r = fig.add_axes(box(525, 377.3, 871.7, 618.5))
year_lists = [resid_2010, resid_2011, resid_2012, resid_2013, resid_2014,
              resid_2015, resid_2016, resid_2017, resid_2018]
year_df = pd.DataFrame([(yr, r) for yr, vals in zip(years, year_lists) for r in vals],
                       columns=["Year", "resid"])
sns.scatterplot(data=year_df, x="Year", y="resid", ax=ax_r, marker="o", s=26,
                facecolor="none", edgecolor="red", linewidth=1.0)
hollow(ax_r)
ax_r.set_xlim(2009.683, 2018.334)
ax_r.set_ylim(-2.986, 5.62)
ax_r.set_xticks(year_ticks)
ax_r.set_xticklabels([str(t) for t in year_ticks])
ax_r.set_yticks(resid_ticks)
ax_r.set_yticklabels([str(t) for t in resid_ticks])
style_box(ax_r)
ax_r.tick_params(axis="x", pad=10)
ax_r.tick_params(axis="y", pad=5)
ax_r.set_xlabel("Year", fontsize=12, color=INK, labelpad=22)
ax_r.set_ylabel(RES_LABEL, fontsize=13, color=INK, labelpad=12)

fig.savefig("out.png", dpi=100, facecolor="white")
